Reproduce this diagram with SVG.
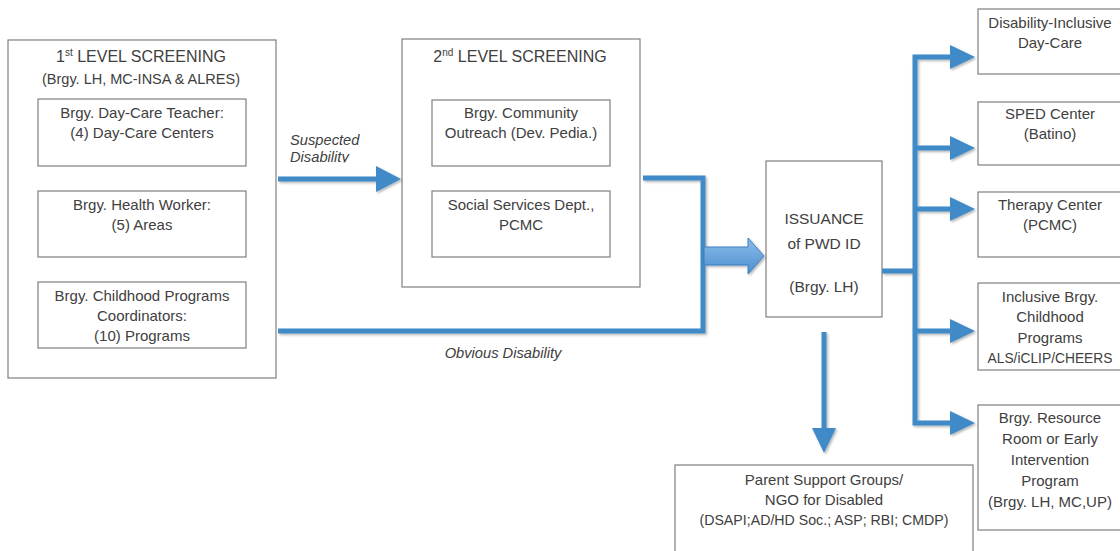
<svg xmlns="http://www.w3.org/2000/svg" width="1120" height="551" viewBox="0 0 1120 551">
  <defs>
    <style>
      .box { fill: #ffffff; stroke: #7f7f7f; stroke-width: 1.2; }
      .t { font-family: "Liberation Sans", Arial, sans-serif; fill: #404040; text-anchor: middle; }
      .title { font-size: 16px; }
      .sub { font-size: 14.5px; }
      .body { font-size: 15px; }
      .narrow { font-size: 13.8px; }
      .long { font-size: 14.2px; }
      .big { font-size: 15.5px; }
      .lbl { font-family: "Liberation Sans", Arial, sans-serif; fill: #404040; font-style: italic; font-size: 14.7px; }
      .wire { fill: none; stroke: #3f8ac8; stroke-width: 5; stroke-linejoin: miter; }
      .head { fill: #3f8ac8; }
    </style>
    <filter id="shadow" x="-10%" y="-10%" width="130%" height="130%">
      <feDropShadow dx="1.5" dy="1.5" stdDeviation="1" flood-color="#000000" flood-opacity="0.3"/>
    </filter>
    <linearGradient id="fat" x1="0" y1="0" x2="0" y2="1">
      <stop offset="0" stop-color="#8dbde9"/>
      <stop offset="1" stop-color="#4a8fd0"/>
    </linearGradient>
    <clipPath id="cutDesc">
      <rect x="280" y="120" width="100" height="42.6"/>
    </clipPath>
  </defs>

  <!-- First level screening -->
  <g id="level1">
    <rect class="box" x="8" y="40" width="268" height="338"/>
    <text class="t title" x="141" y="62">1<tspan font-size="10" dy="-6">st</tspan><tspan dy="6"> LEVEL SCREENING</tspan></text>
    <text class="t sub" x="141" y="84">(Brgy. LH, MC-INSA &amp; ALRES)</text>
  </g>
  <g id="daycare-teacher">
    <rect class="box" x="38" y="99" width="208" height="67"/>
    <text class="t body" x="142" y="118">Brgy. Day-Care Teacher:</text>
    <text class="t body" x="142" y="138">(4) Day-Care Centers</text>
  </g>
  <g id="health-worker">
    <rect class="box" x="38" y="191" width="208" height="66"/>
    <text class="t body" x="142" y="210">Brgy. Health Worker:</text>
    <text class="t body" x="142" y="230">(5) Areas</text>
  </g>
  <g id="childhood-coordinators">
    <rect class="box" x="38" y="282" width="208" height="66"/>
    <text class="t body" x="142" y="301">Brgy. Childhood Programs</text>
    <text class="t body" x="142" y="321">Coordinators:</text>
    <text class="t body" x="142" y="341">(10) Programs</text>
  </g>

  <!-- Second level screening -->
  <g id="level2">
    <rect class="box" x="402" y="39" width="238" height="248"/>
    <text class="t title" x="520" y="62">2<tspan font-size="10" dy="-6">nd</tspan><tspan dy="6"> LEVEL SCREENING</tspan></text>
  </g>
  <g id="community-outreach">
    <rect class="box" x="432" y="100" width="178" height="66"/>
    <text class="t body" x="521" y="118">Brgy. Community</text>
    <text class="t body" x="521" y="138">Outreach (Dev. Pedia.)</text>
  </g>
  <g id="social-services">
    <rect class="box" x="432" y="191" width="178" height="66"/>
    <text class="t body" x="521" y="210">Social Services Dept.,</text>
    <text class="t body" x="521" y="230">PCMC</text>
  </g>

  <!-- PWD ID issuance -->
  <g id="issuance">
    <rect class="box" x="766" y="161" width="116" height="156"/>
    <text class="t big" x="824" y="224">ISSUANCE</text>
    <text class="t big" x="824" y="249">of PWD ID</text>
    <text class="t big" x="824" y="292">(Brgy. LH)</text>
  </g>

  <!-- Services -->
  <g id="inclusive-daycare">
    <rect class="box" x="978" y="9" width="160" height="65"/>
    <text class="t body" x="1050" y="28">Disability-Inclusive</text>
    <text class="t body" x="1050" y="48">Day-Care</text>
  </g>
  <g id="sped-center">
    <rect class="box" x="978" y="102" width="160" height="63"/>
    <text class="t body" x="1050" y="119">SPED Center</text>
    <text class="t body" x="1050" y="139">(Batino)</text>
  </g>
  <g id="therapy-center">
    <rect class="box" x="978" y="192" width="160" height="65"/>
    <text class="t body" x="1050" y="210">Therapy Center</text>
    <text class="t body" x="1050" y="230">(PCMC)</text>
  </g>
  <g id="childhood-programs">
    <rect class="box" x="978" y="283" width="160" height="87"/>
    <text class="t body" x="1050" y="302">Inclusive Brgy.</text>
    <text class="t body" x="1050" y="322">Childhood</text>
    <text class="t body" x="1050" y="343">Programs</text>
    <text class="t narrow" x="1050" y="363">ALS/iCLIP/CHEERS</text>
  </g>
  <g id="resource-room">
    <rect class="box" x="978" y="405" width="160" height="125"/>
    <text class="t body" x="1050" y="423">Brgy. Resource</text>
    <text class="t body" x="1050" y="444">Room or Early</text>
    <text class="t body" x="1050" y="465">Intervention</text>
    <text class="t body" x="1050" y="486">Program</text>
    <text class="t body" x="1050" y="507">(Brgy. LH, MC,UP)</text>
  </g>
  <g id="parent-support">
    <rect class="box" x="675" y="465" width="298" height="100"/>
    <text class="t body" x="824" y="485">Parent Support Groups/</text>
    <text class="t body" x="824" y="505">NGO for Disabled</text>
    <text class="t long" x="824" y="525">(DSAPI;AD/HD Soc.; ASP; RBI; CMDP)</text>
  </g>

  <!-- Connectors -->
  <g id="connectors" filter="url(#shadow)">
    <path class="wire" d="M278,179 H378"/>
    <polygon class="head" points="376,166 401,179 376,192"/>
    <path class="wire" d="M643,178 H703 V331 H278"/>
    <path d="M704,247 H748 V238 L764,256 L748,274 V265 H704 Z" fill="url(#fat)" stroke="#3d7fc0" stroke-width="1"/>
    <path class="wire" d="M882,271 H915"/>
    <path class="wire" d="M952,57 H915 V423 H952"/>
    <path class="wire" d="M915,148 H952 M915,209 H952 M915,331 H952"/>
    <polygon class="head" points="950,45 975,57 950,69"/>
    <polygon class="head" points="950,136 975,148 950,160"/>
    <polygon class="head" points="950,197 975,209 950,221"/>
    <polygon class="head" points="950,319 975,331 950,343"/>
    <polygon class="head" points="950,411 975,423 950,435"/>
    <path class="wire" d="M824,332 V430"/>
    <polygon class="head" points="812,428 836,428 824,453"/>
  </g>

  <!-- Connector labels -->
  <g id="labels">
    <g clip-path="url(#cutDesc)">
      <text class="lbl" x="290" y="145">Suspected</text>
      <text class="lbl" x="290" y="162">Disability</text>
    </g>
    <text class="lbl" x="503" y="358" text-anchor="middle">Obvious Disability</text>
  </g>
</svg>
